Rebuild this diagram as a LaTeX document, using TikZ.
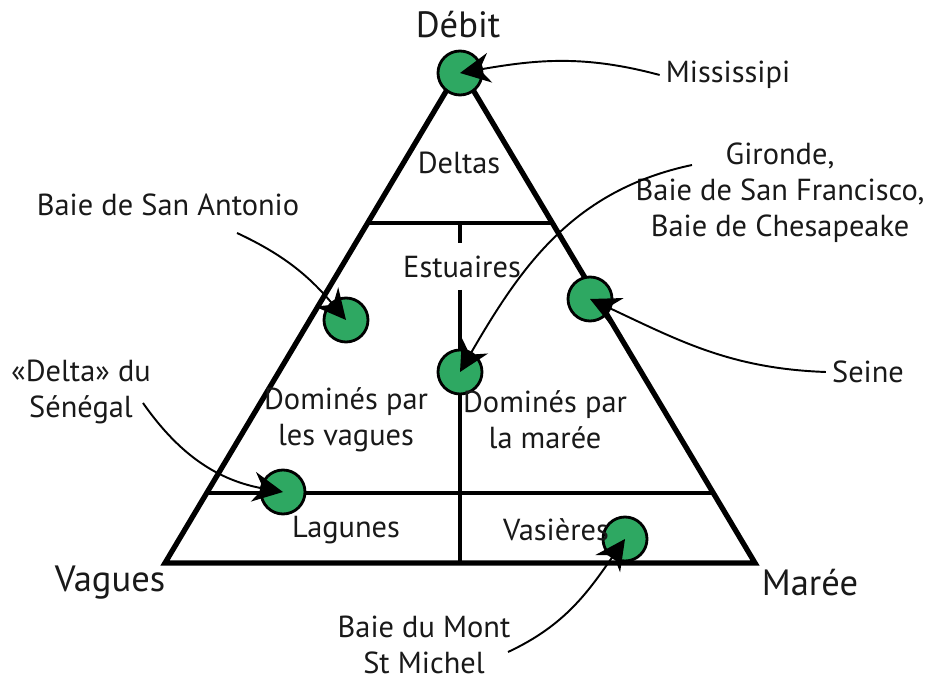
\documentclass[tikz,border=0pt]{standalone}
\usepackage{fontspec}
\setmainfont{PT Sans}
\usetikzlibrary{arrows.meta,calc}

\def \sitesize {0.88cm}
\def \framewidth {3pt}
\def \splitwidth {2.3pt}
\def \lowcut {0.8586}
\def \highcut {0.3131}

\definecolor{sitegreen}{RGB}{46,168,98}

\tikzset{
  site/.style={draw, circle, fill=sitegreen, line width=1.6pt, minimum size=\sitesize, inner sep=0pt},
  lbl/.style={font=\fontsize{17.3}{20.5}\selectfont, align=center, text=black!90},
  pole/.style={font=\fontsize{20.8}{24}\selectfont, text=black!90},
  pointer/.style={line width=1.1pt, -{Stealth[length=0.6cm, width=0.6cm, inset=0.2cm]}},
}

\begin{document}
\begin{tikzpicture}
\useasboundingbox (0,0) rectangle (18.66,13.66);

\coordinate (top) at (9.2,12.3);
\coordinate (wave) at (3.3,2.4);
\coordinate (tide) at (15.1,2.4);

\draw[line width=\framewidth] (top) -- (wave) -- (tide) -- cycle;
\draw[line width=\splitwidth] ($(top)!\highcut!(wave)$) -- ($(top)!\highcut!(tide)$);
\draw[line width=\splitwidth] ($(top)!\lowcut!(wave)$) -- ($(top)!\lowcut!(tide)$);
\draw[line width=\splitwidth] (9.2,9.2) -- (9.2,8.8);
\draw[line width=\splitwidth] (9.2,7.86) -- (9.2,2.4);

\node[site] (c1) at (9.2,12.2) {};
\node[site] (c2) at (6.92,7.26) {};
\node[site] (c3) at (11.8,7.68) {};
\node[site] (c4) at (9.2,6.22) {};
\node[site] (c5) at (5.66,3.82) {};
\node[site] (c6) at (12.5,2.88) {};

\node[pole] (debit) at (9.16,13.16) {Débit};
\node[pole] (vagues) at (2.2,2.0) {Vagues};
\node[pole] (maree) at (16.2,2.0) {Marée};

\node[lbl] (deltas) at (9.18,10.4) {Deltas};
\node[lbl] (estuaires) at (9.24,8.32) {Estuaires};
\node[lbl] (vagdom) at (6.92,5.26) {Dominés par\\les vagues};
\node[lbl] (mardom) at (10.9,5.26) {Dominés par\\la marée};
\node[lbl] (lagunes) at (6.92,3.06) {Lagunes};
\node[lbl] (vasieres) at (11.12,3.06) {Vasières};

\node[lbl] (mississipi) at (14.56,12.16) {Mississipi};
\node[lbl] (gironde) at (15.6,9.8) {Gironde,\\Baie de San Francisco,\\Baie de Chesapeake};
\node[lbl] (antonio) at (3.36,9.56) {Baie de San Antonio};
\node[lbl] (senegal) at (1.62,5.82) {«Delta» du\\Sénégal};
\node[lbl] (seine) at (17.36,6.22) {Seine};
\node[lbl] (mont) at (8.48,0.76) {Baie du Mont\\St Michel};

\coordinate (gironde-start) at (13.84,10.36);
\coordinate (antonio-start) at (4.74,9.0);
\coordinate (senegal-start) at (2.86,5.6);
\coordinate (mont-start) at (10.16,0.62);

\draw[pointer] (mississipi.west) to[out=165,in=10] (c1.center);
\draw[pointer] (gironde-start) to[out=192,in=60] (c4.center);
\draw[pointer] (antonio-start) to[out=-25,in=130] (c2.center);
\draw[pointer] (seine.west) to[out=178,in=-25] (c3.center);
\draw[pointer] (senegal-start) to[out=-55,in=170] (c5.center);
\draw[pointer] (mont-start) to[out=25,in=235] (c6.center);
\end{tikzpicture}
\end{document}
